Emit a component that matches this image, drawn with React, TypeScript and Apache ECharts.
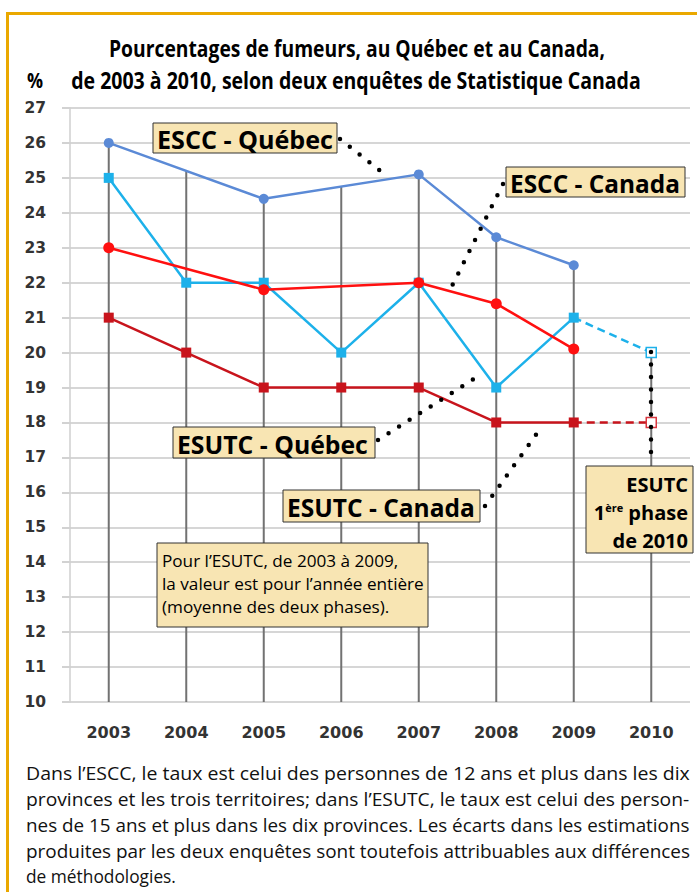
import React, { useEffect, useRef } from "react";
import * as echarts from "echarts";

const years = ["2003", "2004", "2005", "2006", "2007", "2008", "2009", "2010"];
const esccQuebec = [26, null, 24.4, null, 25.1, 23.3, 22.5, null];
const esccCanada = [23, null, 21.8, null, 22, 21.4, 20.1, null];
const esutcQuebec = [25, 22, 22, 20, 22, 19, 21, null];
const esutcCanada = [21, 20, 19, 19, 19, 18, 18, null];
const esutcQuebec2010 = [null, null, null, null, null, null, 21, 20];
const esutcCanada2010 = [null, null, null, null, null, null, 18, 18];
const dropLineTop = [26, 25.2, 24.4, 24.75, 25.1, 23.3, 22.5, 20];
const yMin = 10;
const yMax = 27;

const titleLines = [
  "Pourcentages de fumeurs, au Québec et au Canada,",
  "de 2003 à 2010, selon deux enquêtes de Statistique Canada",
];
const noteLines = [
  "Pour l’ESUTC, de 2003 à 2009,",
  "la valeur est pour l’année entière",
  "(moyenne des deux phases).",
];
const footLines = [
  "Dans l’ESCC, le taux est celui des personnes de 12 ans et plus dans les dix",
  "provinces et les trois territoires; dans l’ESUTC, le taux est celui des person-",
  "nes de 15 ans et plus dans les dix provinces. Les écarts dans les estimations",
  "produites par les deux enquêtes sont toutefois attribuables aux différences",
  "de méthodologies.",
];

const BODY_FONT = "'Open Sans', 'Noto Sans', sans-serif";
const AXIS_FONT = "'DejaVu Sans', Verdana, sans-serif";
const BOX_FILL = "#F8E5B3";

let measureCtx: CanvasRenderingContext2D | null = null;
function measure(text: string, font: string): number {
  if (!measureCtx) measureCtx = document.createElement("canvas").getContext("2d");
  if (!measureCtx) return 1;
  measureCtx.font = font;
  return measureCtx.measureText(text).width || 1;
}
function fitScale(text: string, font: string, target: number): number {
  const s = target / measure(text, font);
  return Math.max(0.5, Math.min(1.5, s));
}

function labelBox(x: number, y: number, w: number, h: number, text: string, textLeft: number, textWidth: number) {
  const font = `bold 25px ${BODY_FONT}`;
  return [
    { type: "rect", z: 100, shape: { x, y, width: w, height: h }, style: { fill: BOX_FILL, stroke: "#333", lineWidth: 1 } },
    {
      type: "text",
      z: 101,
      x: textLeft,
      y: y + h / 2 + 1,
      scaleX: fitScale(text, font, textWidth),
      style: { text, fill: "#000", font, align: "left", verticalAlign: "middle" },
    },
  ];
}

function dotted(x1: number, y1: number, x2: number, y2: number) {
  return {
    type: "line",
    z: 90,
    shape: { x1, y1, x2, y2 },
    style: { stroke: "#000", lineWidth: 4.5, lineDash: [0, 12.5], lineCap: "round" },
  };
}

export default function App() {
  const ref = useRef<HTMLDivElement>(null);
  useEffect(() => {
    if (!ref.current) return;
    const chart = echarts.init(ref.current, null, { renderer: "svg" });
    const lineCommon = {
      type: "line",
      connectNulls: true,
      emphasis: { disabled: true },
      silent: true,
      z: 5,
    };
    const titleFont = `bold 23px ${BODY_FONT}`;
    const noteFont = `17px ${BODY_FONT}`;
    const noteScale = fitScale(noteLines[1], noteFont, 262);
    const footFont = `18px ${BODY_FONT}`;
    const footTargets = [664, 664, 664, 664, 150];
    const boxFont = `bold 20px ${BODY_FONT}`;

    const option: any = {
      animation: false,
      backgroundColor: "#fff",
      grid: { left: 70, right: 7, top: 108, bottom: 190 },
      xAxis: {
        type: "category",
        data: years,
        boundaryGap: true,
        axisLine: { show: false },
        axisTick: { show: false },
        axisLabel: { margin: 22, color: "#333", fontFamily: AXIS_FONT, fontWeight: "bold", fontSize: 16 },
        splitLine: { show: false },
      },
      yAxis: {
        type: "value",
        min: yMin,
        max: yMax,
        interval: 1,
        axisLine: { show: true, lineStyle: { color: "#CFCFCF", width: 1.5 } },
        axisTick: { show: true, length: 8, lineStyle: { color: "#D2D2D2", width: 2 } },
        axisLabel: { margin: 24, color: "#333", fontFamily: AXIS_FONT, fontWeight: "bold", fontSize: 15.5 },
        splitLine: { show: true, lineStyle: { color: "#D6D6D6", width: 2 } },
      },
      series: [
        {
          type: "custom",
          silent: true,
          z: 2,
          data: dropLineTop.map((v, i) => [i, v]),
          encode: { x: 0, y: 1 },
          renderItem: (params: any, api: any) => {
            const top = api.coord([api.value(0), api.value(1)]);
            const bottom = api.coord([api.value(0), yMin]);
            return {
              type: "line",
              shape: { x1: top[0], y1: top[1], x2: bottom[0], y2: bottom[1] },
              style: { stroke: "#727272", lineWidth: 2 },
            };
          },
        },
        {
          ...lineCommon,
          name: "ESCC - Québec",
          data: esccQuebec,
          symbol: "circle",
          symbolSize: 10,
          lineStyle: { color: "#5B8AD6", width: 2.5 },
          itemStyle: { color: "#5B8AD6" },
        },
        {
          ...lineCommon,
          name: "ESUTC - Québec (2010)",
          data: esutcQuebec2010.map((v, i) =>
            i === 7
              ? { value: v, symbol: "rect", symbolSize: 10, itemStyle: { color: "#fff", borderColor: "#1DB1EA", borderWidth: 1.5 } }
              : { value: v, symbol: "none" }
          ),
          lineStyle: { color: "#1DB1EA", width: 2.5, type: [8, 5] },
          itemStyle: { color: "#1DB1EA" },
        },
        {
          ...lineCommon,
          name: "ESUTC - Québec",
          data: esutcQuebec,
          symbol: "rect",
          symbolSize: 10,
          lineStyle: { color: "#1DB1EA", width: 2.5 },
          itemStyle: { color: "#1DB1EA" },
        },
        {
          ...lineCommon,
          name: "ESUTC - Canada (2010)",
          data: esutcCanada2010.map((v, i) =>
            i === 7
              ? { value: v, symbol: "rect", symbolSize: 10, itemStyle: { color: "#fff", borderColor: "#D9363E", borderWidth: 1.5 } }
              : { value: v, symbol: "none" }
          ),
          lineStyle: { color: "#C8141C", width: 2.5, type: [8, 5] },
          itemStyle: { color: "#C8141C" },
        },
        {
          ...lineCommon,
          name: "ESUTC - Canada",
          data: esutcCanada,
          symbol: "rect",
          symbolSize: 10,
          lineStyle: { color: "#C8141C", width: 2.5 },
          itemStyle: { color: "#C8141C" },
        },
        {
          ...lineCommon,
          name: "ESCC - Canada",
          data: esccCanada,
          symbol: "circle",
          symbolSize: 11,
          lineStyle: { color: "#FF1010", width: 2.5 },
          itemStyle: { color: "#FF1010" },
        },
      ],
      graphic: [
        {
          type: "rect",
          z: 0,
          silent: true,
          shape: { x: 7.5, y: 13.5, width: 760, height: 960 },
          style: { fill: "none", stroke: "#EAA800", lineWidth: 3 },
        },
        {
          type: "text",
          z: 50,
          x: 357,
          y: 48,
          scaleX: fitScale(titleLines[0], titleFont, 496),
          style: { text: titleLines[0], fill: "#000", font: titleFont, align: "center", verticalAlign: "middle" },
        },
        {
          type: "text",
          z: 50,
          x: 356,
          y: 80,
          scaleX: fitScale(titleLines[1], titleFont, 570),
          style: { text: titleLines[1], fill: "#000", font: titleFont, align: "center", verticalAlign: "middle" },
        },
        {
          type: "text",
          z: 50,
          x: 35,
          y: 80,
          scaleX: 0.85,
          style: { text: "%", fill: "#000", font: `bold 21px ${BODY_FONT}`, align: "center", verticalAlign: "middle" },
        },
        dotted(340, 139, 388, 177),
        dotted(503, 184, 451, 288),
        dotted(378, 440, 483, 373),
        dotted(485, 506, 543, 425),
        dotted(651, 352, 651, 463),
        ...labelBox(153, 123, 184, 30, "ESCC - Québec", 157, 176),
        ...labelBox(506, 167, 179, 30, "ESCC - Canada", 510, 170),
        ...labelBox(173, 427, 202, 31, "ESUTC - Québec", 177, 191),
        ...labelBox(283, 490, 197, 32, "ESUTC - Canada", 287, 188),
        { type: "rect", z: 100, shape: { x: 586, y: 466, width: 107, height: 87 }, style: { fill: BOX_FILL, stroke: "#333", lineWidth: 1 } },
        { type: "text", z: 101, x: 688, y: 484, style: { text: "ESUTC", fill: "#000", font: boxFont, align: "right", verticalAlign: "middle" } },
        {
          type: "text",
          z: 101,
          x: 688,
          y: 512,
          style: {
            text: "{a|1}{s|ère}{a| phase}",
            align: "right",
            verticalAlign: "middle",
            rich: {
              a: { fill: "#000", font: boxFont, lineHeight: 20, verticalAlign: "bottom" },
              s: { fill: "#000", font: `bold 11px ${BODY_FONT}`, lineHeight: 20, verticalAlign: "top" },
            },
          },
        },
        { type: "text", z: 101, x: 688, y: 540, style: { text: "de 2010", fill: "#000", font: boxFont, align: "right", verticalAlign: "middle" } },
        { type: "rect", z: 100, shape: { x: 157, y: 543, width: 271, height: 84 }, style: { fill: BOX_FILL, stroke: "#333", lineWidth: 1 } },
        ...noteLines.map((t, i) => ({
          type: "text",
          z: 101,
          x: 162,
          y: 561 + i * 23,
          scaleX: noteScale,
          style: { text: t, fill: "#000", font: noteFont, align: "left", verticalAlign: "middle" },
        })),
        ...footLines.map((t, i) => ({
          type: "text",
          z: 50,
          x: 26,
          y: 773 + i * 25.8,
          scaleX: fitScale(t, footFont, footTargets[i]),
          style: { text: t, fill: "#111", font: footFont, align: "left", verticalAlign: "middle" },
        })),
      ],
    };
    chart.setOption(option);
    return () => chart.dispose();
  }, []);
  return <div ref={ref} style={{ position: "fixed", left: 0, top: 0, width: 697, height: 892, background: "#fff" }} />;
}
